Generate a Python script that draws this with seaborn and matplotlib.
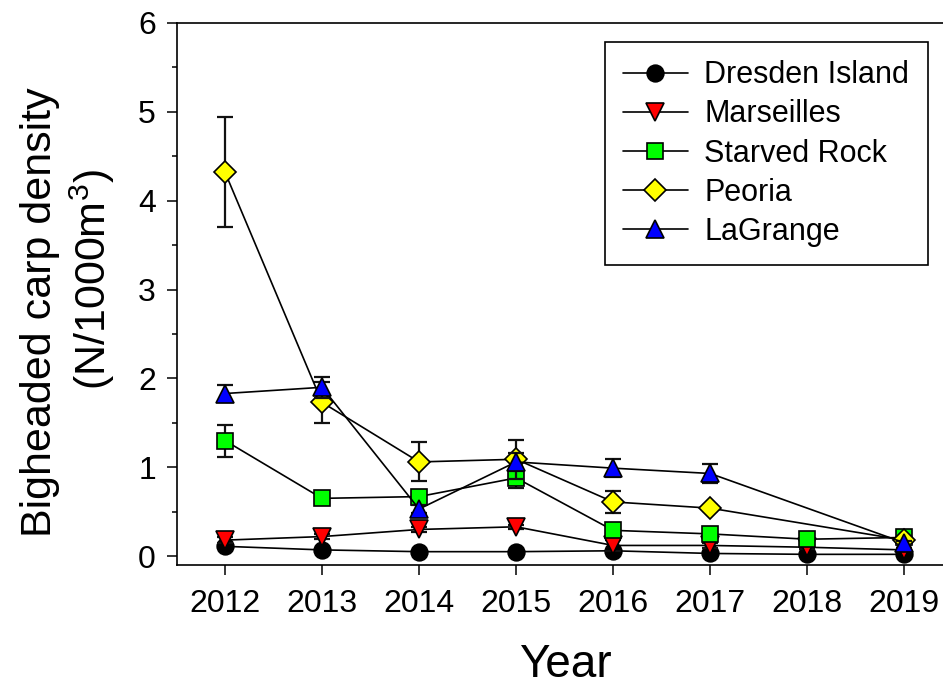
import matplotlib
matplotlib.use("Agg")
import matplotlib.pyplot as plt
import seaborn as sns
import pandas as pd
import numpy as np

# ---- data ----
years = [2012, 2013, 2014, 2015, 2016, 2017, 2018, 2019]
site_names = ["Dresden Island", "Marseilles", "Starved Rock", "Peoria", "LaGrange"]

dresden = [0.11, 0.07, 0.05, 0.05, 0.06, 0.03, 0.02, 0.02]
dresden_err = [0.02, 0.02, 0.01, 0.01, 0.02, 0.01, 0.01, 0.01]
marseilles = [0.18, 0.22, 0.30, 0.33, 0.12, 0.12, 0.10, 0.07]
marseilles_err = [0.03, 0.03, 0.03, 0.02, 0.06, 0.03, 0.02, 0.02]
starved_rock = [1.30, 0.65, 0.67, 0.88, 0.29, 0.25, 0.19, 0.21]
starved_rock_err = [0.18, 0.03, 0.05, 0.11, 0.05, 0.03, 0.03, 0.02]
peoria = [4.32, 1.73, 1.06, 1.09, 0.61, 0.54, np.nan, 0.18]
peoria_err = [0.62, 0.23, 0.22, 0.22, 0.12, 0.03, np.nan, 0.02]
lagrange = [1.83, 1.90, 0.53, 1.06, 0.99, 0.93, np.nan, 0.15]
lagrange_err = [0.10, 0.12, 0.05, 0.10, 0.10, 0.11, np.nan, 0.02]

series_values = [dresden, marseilles, starved_rock, peoria, lagrange]
series_errors = [dresden_err, marseilles_err, starved_rock_err, peoria_err, lagrange_err]

y_ticks = [0, 1, 2, 3, 4, 5, 6]

# ---- styles ----
markers = ["o", "v", "s", "D", "^"]
marker_sizes = [12, 13, 11.5, 10.7, 13]
face_colors = ["black", "red", "#00ff00", "yellow", "blue"]

sns.set_style("ticks")
plt.rcParams["font.family"] = ["Liberation Sans", "DejaVu Sans"]
plt.rcParams["mathtext.fontset"] = "custom"
plt.rcParams["mathtext.rm"] = "Liberation Sans"
plt.rcParams["mathtext.it"] = "Liberation Sans"
plt.rcParams["text.color"] = "black"
plt.rcParams["axes.labelcolor"] = "black"
plt.rcParams["xtick.color"] = "black"
plt.rcParams["ytick.color"] = "black"

fig = plt.figure(figsize=(9.43, 6.88), dpi=100)
W, H = 943, 688
ax = fig.add_axes([177 / W, 1 - 565 / H, (943 - 177) / W, (565 - 23) / H])

for i, (name, vals, errs) in enumerate(zip(site_names, series_values, series_errors)):
    df = pd.DataFrame({"Year": years, "Density": vals, "Err": errs}).dropna()
    z = 3 + i * 2
    ax.errorbar(df["Year"], df["Density"], yerr=df["Err"], fmt="none",
                ecolor="#111111", elinewidth=1.6, capsize=6, capthick=1.6, zorder=z)
    sns.lineplot(data=df, x="Year", y="Density", ax=ax, color="black",
                 linewidth=1.2, marker=markers[i], markersize=marker_sizes[i],
                 markerfacecolor=face_colors[i], markeredgecolor="black",
                 markeredgewidth=1.2, label=name, zorder=z + 1,
                 errorbar=None, sort=False)

ax.set_xlim(2011.505, 2019.40)
ax.set_ylim(-0.1, 6)
ax.set_xticks(years)
ax.set_xticklabels([str(y) for y in years])
ax.set_yticks(y_ticks)
ax.set_yticklabels([str(t) for t in y_ticks])
ax.set_yticks(np.arange(0.5, 6, 1.0), minor=True)
ax.tick_params(axis="both", which="major", labelsize=23, length=7.2, width=1.1,
               color="black", labelcolor="black", direction="out")
ax.tick_params(axis="x", which="major", pad=10)
ax.tick_params(axis="y", which="major", pad=8)
ax.tick_params(axis="y", which="minor", length=3.6, width=1.1, direction="out")

for s in ["left", "bottom", "top"]:
    ax.spines[s].set_visible(True)
    ax.spines[s].set_linewidth(1.2)
    ax.spines[s].set_color("black")
ax.spines["right"].set_visible(False)
ax.set_xlabel("")
ax.set_ylabel("")

leg = ax.legend(loc="upper left", bbox_to_anchor=((605 - 177) / 766, 1 - (42 - 23) / 542),
                fontsize=22, frameon=True, fancybox=False, edgecolor="black",
                framealpha=1, handlelength=2.1, handletextpad=0.55,
                labelspacing=0.3, borderpad=0.6, borderaxespad=0)
leg.get_frame().set_linewidth(1.2)
for t in leg.get_texts():
    t.set_color("black")

fig.text(40 / W, 1 - 312 / H, "Bigheaded carp density", rotation=90,
         ha="center", va="center", fontsize=31)
fig.text(92 / W, 1 - 280 / H, r"(N/1000m$^{3}$)", rotation=90,
         ha="center", va="center", fontsize=31)
fig.text(565 / W, 1 - 665 / H, "Year", ha="center", va="center", fontsize=33)

fig.savefig("out.png", dpi=100)
